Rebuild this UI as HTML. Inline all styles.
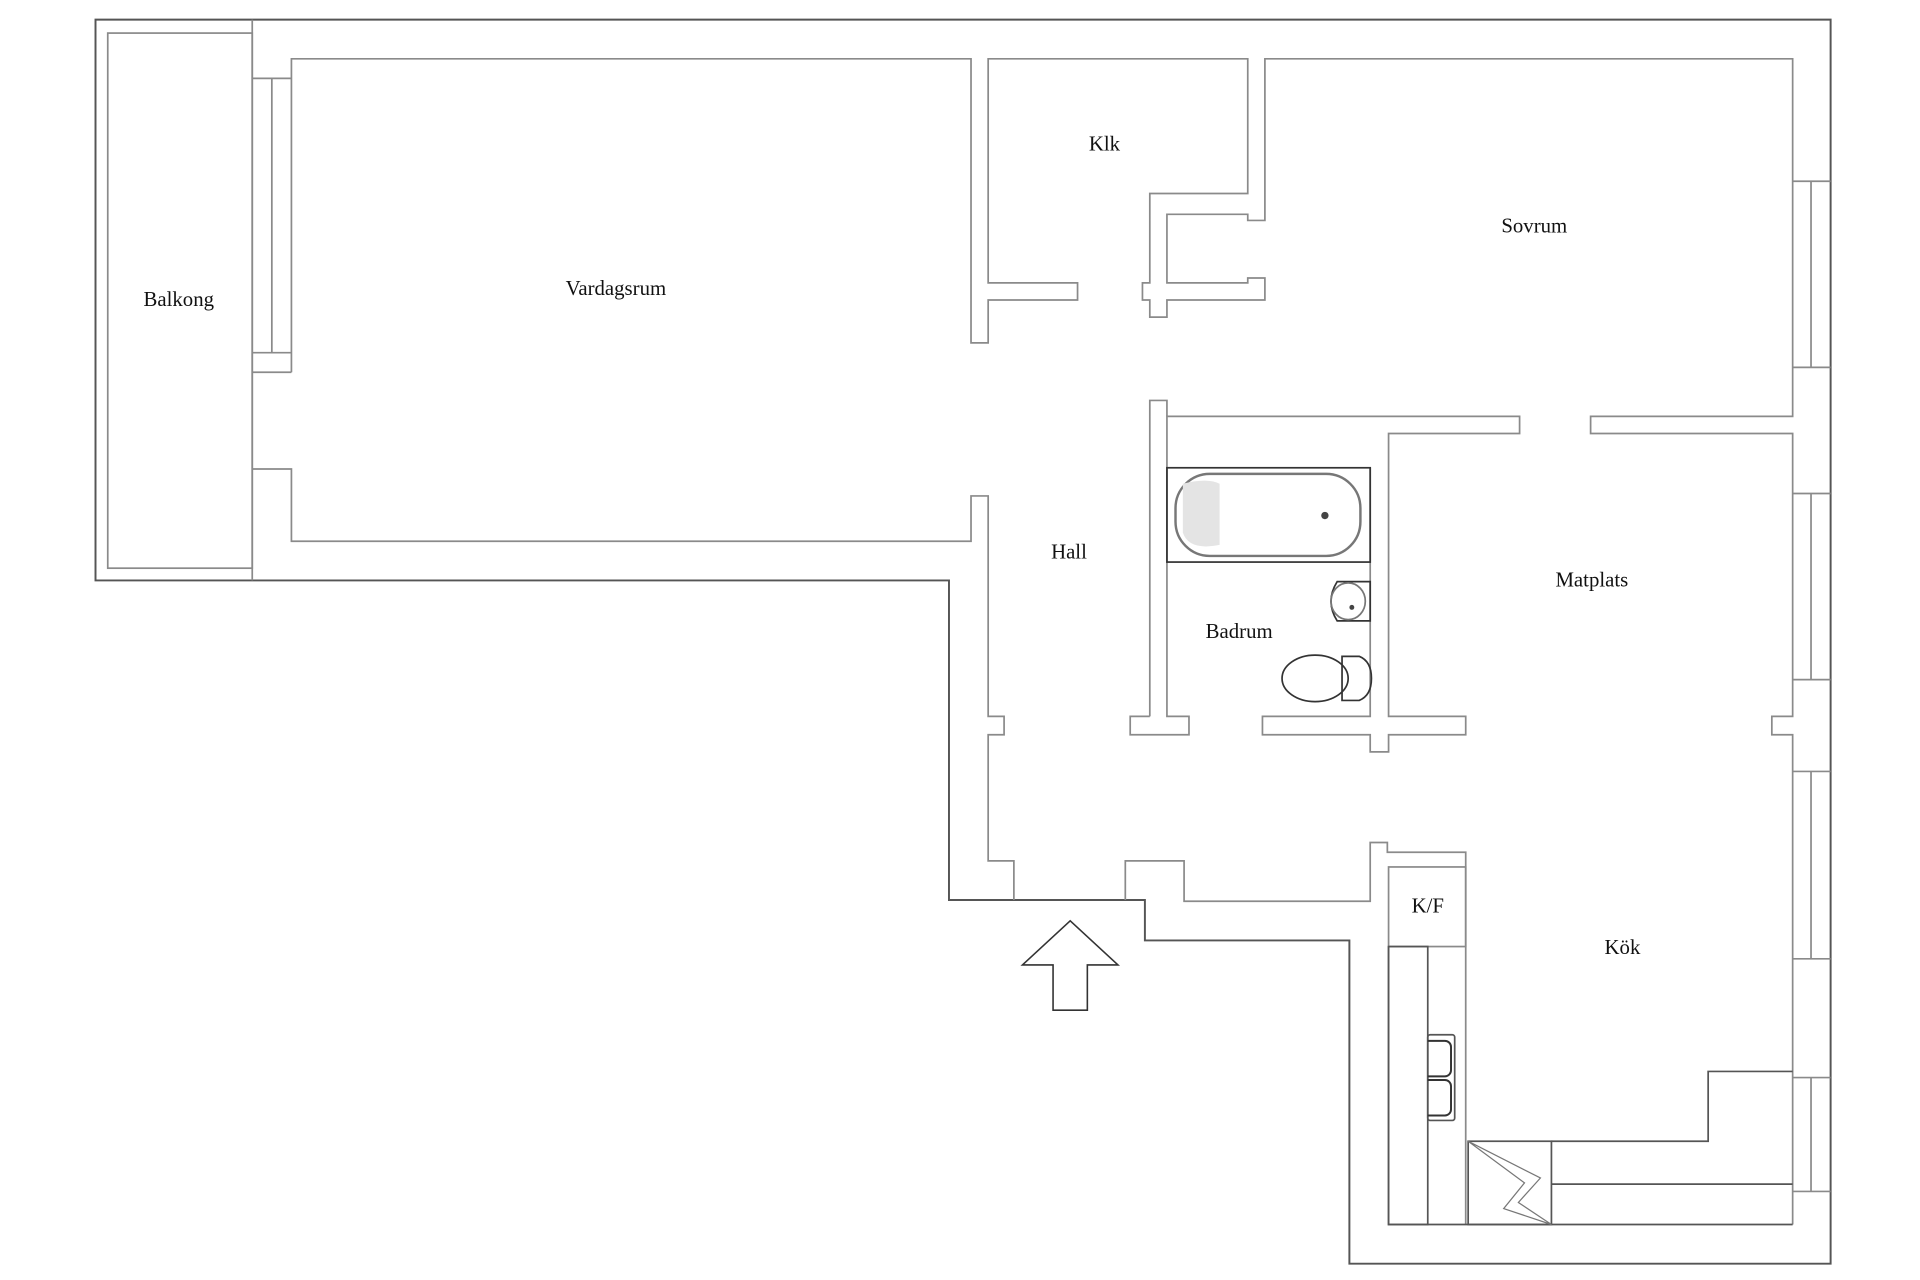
<!DOCTYPE html>
<html><head><meta charset="utf-8"><style>
html,body{margin:0;padding:0;background:#fff;}
svg{display:block;}
text{font-family:"Liberation Serif",serif;font-size:17px;fill:#111;text-anchor:middle;}
</style></head><body>
<svg width="1920" height="1280" viewBox="0 0 1568 1045.3" xmlns="http://www.w3.org/2000/svg">
<g fill="none" stroke="#8a8a8a" stroke-width="1.4">
<polygon points="78,16 1495,16 1495,1032 1102,1032 1102,768 935,768 935,735 775,735 775,474 78,474" stroke="#555" stroke-width="1.6"/>
<rect x="88" y="27" width="118" height="437"/>
<line x1="206" y1="16" x2="206" y2="474"/>
<polyline points="206,64 238,64"/>
<line x1="222" y1="64" x2="222" y2="288"/>
<line x1="206" y1="288" x2="238" y2="288"/>
<polyline points="238,304 206,304"/>
<polyline points="238,304 238,48 793,48 793,280 807,280 807,245 880,245 880,231 807,231 807,48 1019,48 1019,158 939,158 939,231 933,231 933,245 939,245 939,259 953,259 953,245 1033,245 1033,227 1019,227 1019,231 953,231 953,175 1019,175 1019,180 1033,180 1033,48 1464,48 1464,340 1299,340 1299,354 1464,354 1464,585 1447,585 1447,600 1464,600 1464,1000"/>
<polyline points="1464,148 1495,148"/><polyline points="1464,300 1495,300"/><line x1="1479" y1="148" x2="1479" y2="300"/>
<polyline points="1464,403 1495,403"/><polyline points="1464,555 1495,555"/><line x1="1479" y1="403" x2="1479" y2="555"/>
<polyline points="1464,630 1495,630"/><polyline points="1464,783 1495,783"/><line x1="1479" y1="630" x2="1479" y2="783"/>
<polyline points="1464,880 1495,880"/><polyline points="1464,973 1495,973"/><line x1="1479" y1="880" x2="1479" y2="973"/>
<polyline points="206,383 238,383 238,442 793,442 793,405 807,405 807,585 820,585 820,600 807,600 807,703 828,703 828,735"/>
<polyline points="939,585 923,585 923,600 971,600 971,585 953,585 953,340 1241,340 1241,354 1134,354 1134,585 1197,585 1197,600 1134,600 1134,614 1119,614 1119,600 1031,600 1031,585 1119,585 1119,382"/>
<polyline points="939,585 939,327 953,327 953,340"/>
<polyline points="919,735 919,703 967,703 967,736 1119,736 1119,688 1133,688 1133,696 1197,696 1197,1000"/>
<rect x="1134" y="708" width="63" height="65"/>
<polyline points="1134,773 1134,1000 1464,1000" stroke="#555"/>
<rect x="1134" y="773" width="32" height="227" stroke="#555"/>
<rect x="1199" y="932" width="68" height="68" stroke="#555"/>
<polyline points="1267,932 1395,932 1395,875 1464,875" stroke="#555"/>
<line x1="1267" y1="967" x2="1464" y2="967" stroke="#555"/>
<polyline points="1199,932 1245,966 1228,987 1267,1000 1240,982 1258,962 1199,932" stroke="#777" stroke-width="1"/>
<rect x="1166" y="845" width="22" height="70" rx="2" stroke="#555"/>
<path d="M1166,850 h14 a5,5 0 0 1 5,5 v19 a5,5 0 0 1 -5,5 h-14 M1166,882 h14 a5,5 0 0 1 5,5 v19 a5,5 0 0 1 -5,5 h-14" stroke="#333" stroke-width="1.6"/>
<rect x="953" y="382" width="166" height="77" stroke="#333"/>
<rect x="960" y="387" width="151" height="67" rx="28" stroke="#777" stroke-width="2"/>
<path d="M966,395 q20,-5 30,0 l0,50 q-25,5 -30,-10z" fill="#e4e4e4" stroke="none"/>
<circle cx="1082" cy="421" r="3" fill="#444" stroke="none"/>
<path d="M1092,475 h27 v32 h-27 q-10,-16 0,-32z" stroke="#333"/>
<ellipse cx="1101" cy="491" rx="14" ry="15" stroke="#777"/>
<circle cx="1104" cy="496" r="2" fill="#444" stroke="none"/>
<ellipse cx="1074" cy="554" rx="27" ry="19" stroke="#333"/>
<path d="M1096,536 h14 q10,4 10,18 q0,14 -10,18 h-14z" stroke="#333"/>
</g>
<polygon points="835,788 874,752 913,788 888,788 888,825 860,825 860,788" fill="none" stroke="#333" stroke-width="1.3"/>
<text x="146" y="250">Balkong</text>
<text x="503" y="241">Vardagsrum</text>
<text x="902" y="123">Klk</text>
<text x="1253" y="190">Sovrum</text>
<text x="873" y="456">Hall</text>
<text x="1012" y="521">Badrum</text>
<text x="1300" y="479">Matplats</text>
<text x="1166" y="745">K/F</text>
<text x="1325" y="779">Kök</text>
</svg>
</body></html>
